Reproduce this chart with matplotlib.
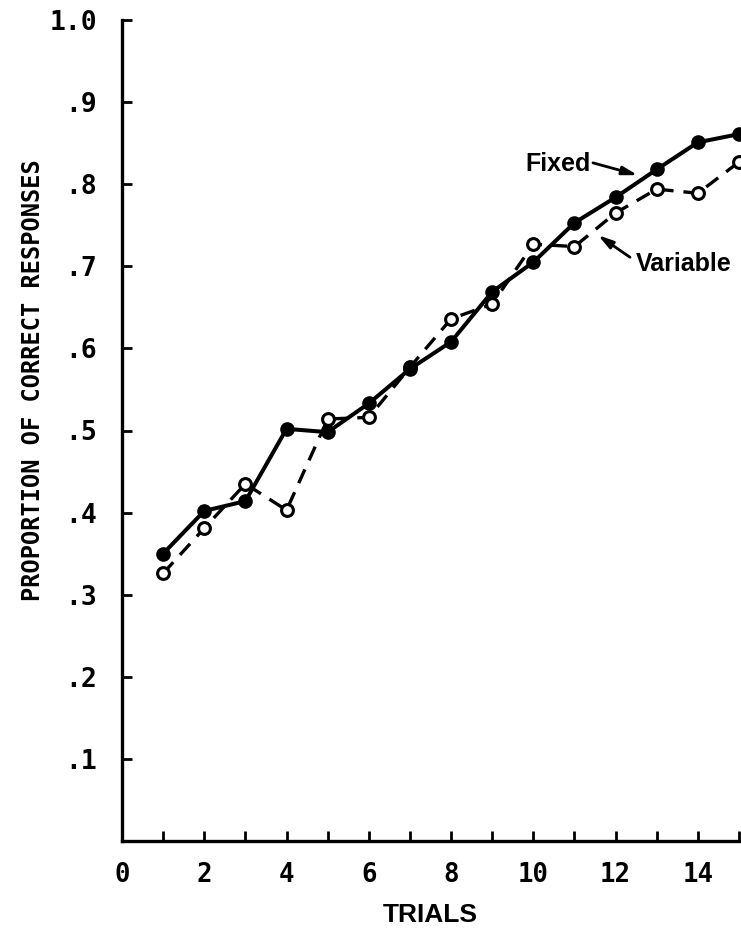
import matplotlib
matplotlib.use("Agg")
import matplotlib.pyplot as plt

trials = list(range(1, 16))
fixed = [0.350, 0.402, 0.414, 0.502, 0.498, 0.533, 0.575, 0.608, 0.669, 0.705,
         0.753, 0.784, 0.818, 0.851, 0.861]
variable = [0.326, 0.381, 0.435, 0.403, 0.514, 0.516, 0.577, 0.636, 0.654, 0.727,
            0.724, 0.765, 0.794, 0.789, 0.827]
xticks = list(range(0, 16))
xticklabels = [str(t) if t % 2 == 0 else "" for t in xticks]
yticks = [0.1, 0.2, 0.3, 0.4, 0.5, 0.6, 0.7, 0.8, 0.9, 1.0]
yticklabels = [".1", ".2", ".3", ".4", ".5", ".6", ".7", ".8", ".9", "1.0"]

W, H = 741, 932
fig = plt.figure(figsize=(W / 100, H / 100), dpi=100)
ax = fig.add_axes([122 / W, 1 - 841 / H, (739 - 122) / W, (841 - 20) / H])

ax.plot(trials, variable, color="black", lw=2.4, linestyle=(0, (4.5, 3)),
        marker="o", markersize=8.5, markerfacecolor="white",
        markeredgecolor="black", markeredgewidth=2.2, clip_on=False, zorder=3)
ax.plot(trials, fixed, color="black", lw=2.9, linestyle="-",
        marker="o", markersize=9.5, markerfacecolor="black",
        markeredgecolor="black", clip_on=False, zorder=4)

ax.set_xlim(0, 15)
ax.set_ylim(0, 1.0)
for s in ["top", "right"]:
    ax.spines[s].set_visible(False)
for s in ["left", "bottom"]:
    ax.spines[s].set_linewidth(2.4)

ax.set_xticks(xticks)
ax.set_xticklabels(xticklabels, fontfamily="DejaVu Sans Mono", fontsize=18.5,
                   fontweight="bold")
ax.set_yticks(yticks)
ax.set_yticklabels(yticklabels, fontfamily="DejaVu Sans Mono", fontsize=19,
                   fontweight="bold")
ax.tick_params(axis="x", direction="in", length=7, width=2, pad=15)
ax.tick_params(axis="y", direction="in", length=7, width=2, pad=18)

ax.set_xlabel("TRIALS", fontfamily="Liberation Sans", fontsize=19,
              fontweight="bold", labelpad=11)
fig.text(33 / W, 1 - 380 / H, "PROPORTION OF CORRECT RESPONSES",
         rotation=90, ha="center", va="center",
         fontfamily="DejaVu Sans Mono", fontsize=17, fontweight="bold")

arrowprops = dict(arrowstyle="-|>,head_length=0.9,head_width=0.25",
                  color="black", lw=2.0, shrinkA=0, shrinkB=0)
ax.annotate("", xy=(12.54, 0.811), xytext=(11.45, 0.826), arrowprops=arrowprops)
ax.text(11.4, 0.824, "Fixed", ha="right", va="center",
        fontfamily="Liberation Sans", fontsize=18, fontweight="bold")
ax.annotate("", xy=(11.57, 0.738), xytext=(12.35, 0.711), arrowprops=arrowprops)
ax.text(12.5, 0.703, "Variable", ha="left", va="center",
        fontfamily="Liberation Sans", fontsize=18, fontweight="bold")

fig.savefig("out.png", dpi=100, facecolor="white")
